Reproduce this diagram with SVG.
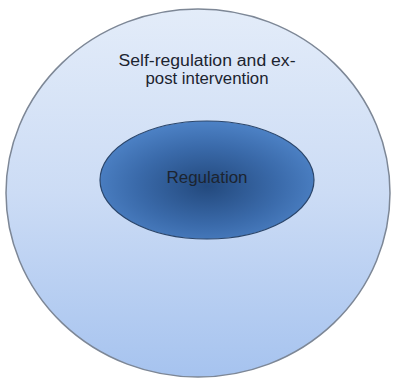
<svg xmlns="http://www.w3.org/2000/svg" width="393" height="379" viewBox="0 0 393 379">
<defs>
<linearGradient id="outerG" x1="0" y1="0" x2="0" y2="1">
<stop offset="0" stop-color="#e3ecf9"/>
<stop offset="0.5" stop-color="#ccdcf5"/>
<stop offset="1" stop-color="#a6c3ef"/>
</linearGradient>
<radialGradient id="innerG" cx="0.5" cy="0.55" r="0.55">
<stop offset="0" stop-color="#23497d"/>
<stop offset="0.6" stop-color="#3a6aaa"/>
<stop offset="1" stop-color="#4d82c6"/>
</radialGradient>
<style>
.lbl{font-family:"Liberation Sans",Arial,sans-serif;font-size:16px;fill:#1c2430;text-anchor:middle}
</style>
</defs>
<rect width="393" height="379" fill="#ffffff"/>
<g id="outer">
<ellipse cx="198" cy="193" rx="192" ry="184" fill="url(#outerG)" stroke="#7d8796" stroke-width="1.5"/>
<text class="lbl" x="207" y="66" textLength="177" lengthAdjust="spacingAndGlyphs">Self-regulation and ex-</text>
<text class="lbl" x="207" y="84" textLength="123" lengthAdjust="spacingAndGlyphs">post intervention</text>
</g>
<g id="inner">
<ellipse cx="207" cy="180" rx="107" ry="59" fill="url(#innerG)" stroke="#2b466b" stroke-width="1.2"/>
<text class="lbl" x="207" y="183" textLength="81" lengthAdjust="spacingAndGlyphs">Regulation</text>
</g>
<g id="connectors"/>
</svg>
